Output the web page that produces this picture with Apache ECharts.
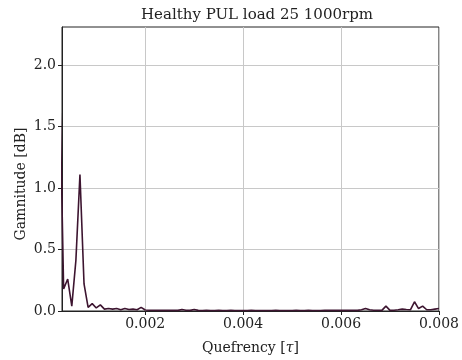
<!DOCTYPE html>
<html>
<head>
<meta charset="utf-8">
<script src="https://cdn.jsdelivr.net/npm/echarts@6/dist/echarts.min.js"></script>
<style>
  html, body { margin: 0; padding: 0; background: #fff; }
  #chart { width: 462px; height: 360px; }
</style>
</head>
<body>
<div id="chart"></div>
<script>
// Cepstrum of the healthy PUL signal, load 25, 1000 rpm
const sampleRate = 12000;          // Hz, quefrency step = 1 / sampleRate
const firstSample = 3;             // first cepstral bin shown
const gamnitude = [
  1.90, 0.18, 0.26, 0.04, 0.41, 1.11, 0.22, 0.03, 0.06, 0.025,
  0.05, 0.015, 0.02, 0.015, 0.02, 0.01, 0.02, 0.012, 0.015, 0.01,
  0.03, 0.008, 0.006, 0.006, 0.005, 0.006, 0.005, 0.006, 0.005, 0.005,
  0.012, 0.006, 0.005, 0.012, 0.005, 0.004, 0.005, 0.004, 0.004, 0.005,
  0.004, 0.004, 0.005, 0.004, 0.004, 0.004, 0.004, 0.005, 0.004, 0.004,
  0.004, 0.004, 0.004, 0.005, 0.004, 0.004, 0.004, 0.004, 0.005, 0.004,
  0.004, 0.005, 0.004, 0.004, 0.004, 0.005, 0.006, 0.005, 0.006, 0.005,
  0.006, 0.005, 0.006, 0.005, 0.01, 0.02, 0.01, 0.006, 0.006, 0.005,
  0.04, 0.005, 0.006, 0.01, 0.015, 0.012, 0.01, 0.075, 0.02, 0.04,
  0.01, 0.01, 0.015, 0.02
];
const xTicks = [0.002, 0.004, 0.006, 0.008];
const yTicks = [0.0, 0.5, 1.0, 1.5, 2.0];
const xRange = [0.0003, 0.008];
const yRange = [0, 2.31];

const points = gamnitude.map((g, k) => [(firstSample + k) / sampleRate, g]);

const serif = '"DejaVu Serif", "Liberation Serif", serif';
const axisColor = '#222';
const gridColor = '#c8c8c8';

const chart = echarts.init(document.getElementById('chart'), null, { renderer: 'canvas' });
chart.setOption({
  animation: false,
  backgroundColor: '#fff',
  title: {
    text: 'Healthy PUL load 25 1000rpm',
    left: 252, top: 3, textAlign: 'center',
    textStyle: { fontFamily: serif, fontWeight: 'normal', fontSize: 15, color: '#222' }
  },
  grid: {
    left: 62, right: 19, top: 27, bottom: 48,
    show: true, borderColor: axisColor, borderWidth: 1, backgroundColor: 'transparent'
  },
  xAxis: {
    type: 'value', min: xRange[0], max: xRange[1],
    name: 'Quefrency [{t|τ}]', nameLocation: 'middle', nameGap: 30,
    nameTextStyle: {
      fontFamily: serif, fontSize: 14, color: '#222',
      rich: { t: { fontFamily: serif, fontStyle: 'italic', fontSize: 14, color: '#222' } }
    },
    axisLine: { show: true, onZero: false, lineStyle: { color: axisColor, width: 1 } },
    axisTick: { show: true, length: 4, customValues: xTicks, lineStyle: { color: axisColor } },
    axisLabel: {
      customValues: xTicks, fontFamily: serif, fontSize: 14, color: '#222', margin: 6,
      formatter: v => v.toFixed(3)
    },
    splitLine: { show: true, lineStyle: { color: gridColor, width: 1 } }
  },
  yAxis: {
    type: 'value', min: yRange[0], max: yRange[1],
    name: 'Gamnitude [dB]', nameLocation: 'middle', nameGap: 34, nameRotate: 90,
    nameMoveOverlap: false,
    nameTextStyle: { fontFamily: serif, fontSize: 14, color: '#222', padding: [0, 30, 0, 0] },
    axisLine: { show: true, lineStyle: { color: axisColor, width: 1 } },
    axisTick: { show: true, length: 4, customValues: yTicks, lineStyle: { color: axisColor } },
    axisLabel: {
      customValues: yTicks, fontFamily: serif, fontSize: 14, color: '#222', margin: 6,
      formatter: v => v.toFixed(1)
    },
    splitLine: { show: true, lineStyle: { color: gridColor, width: 1 } }
  },
  series: [{
    type: 'line',
    data: points,
    showSymbol: false,
    clip: true,
    lineStyle: { color: '#3d1530', width: 1.6 },
    itemStyle: { color: '#3d1530' }
  }]
});
</script>
</body>
</html>
